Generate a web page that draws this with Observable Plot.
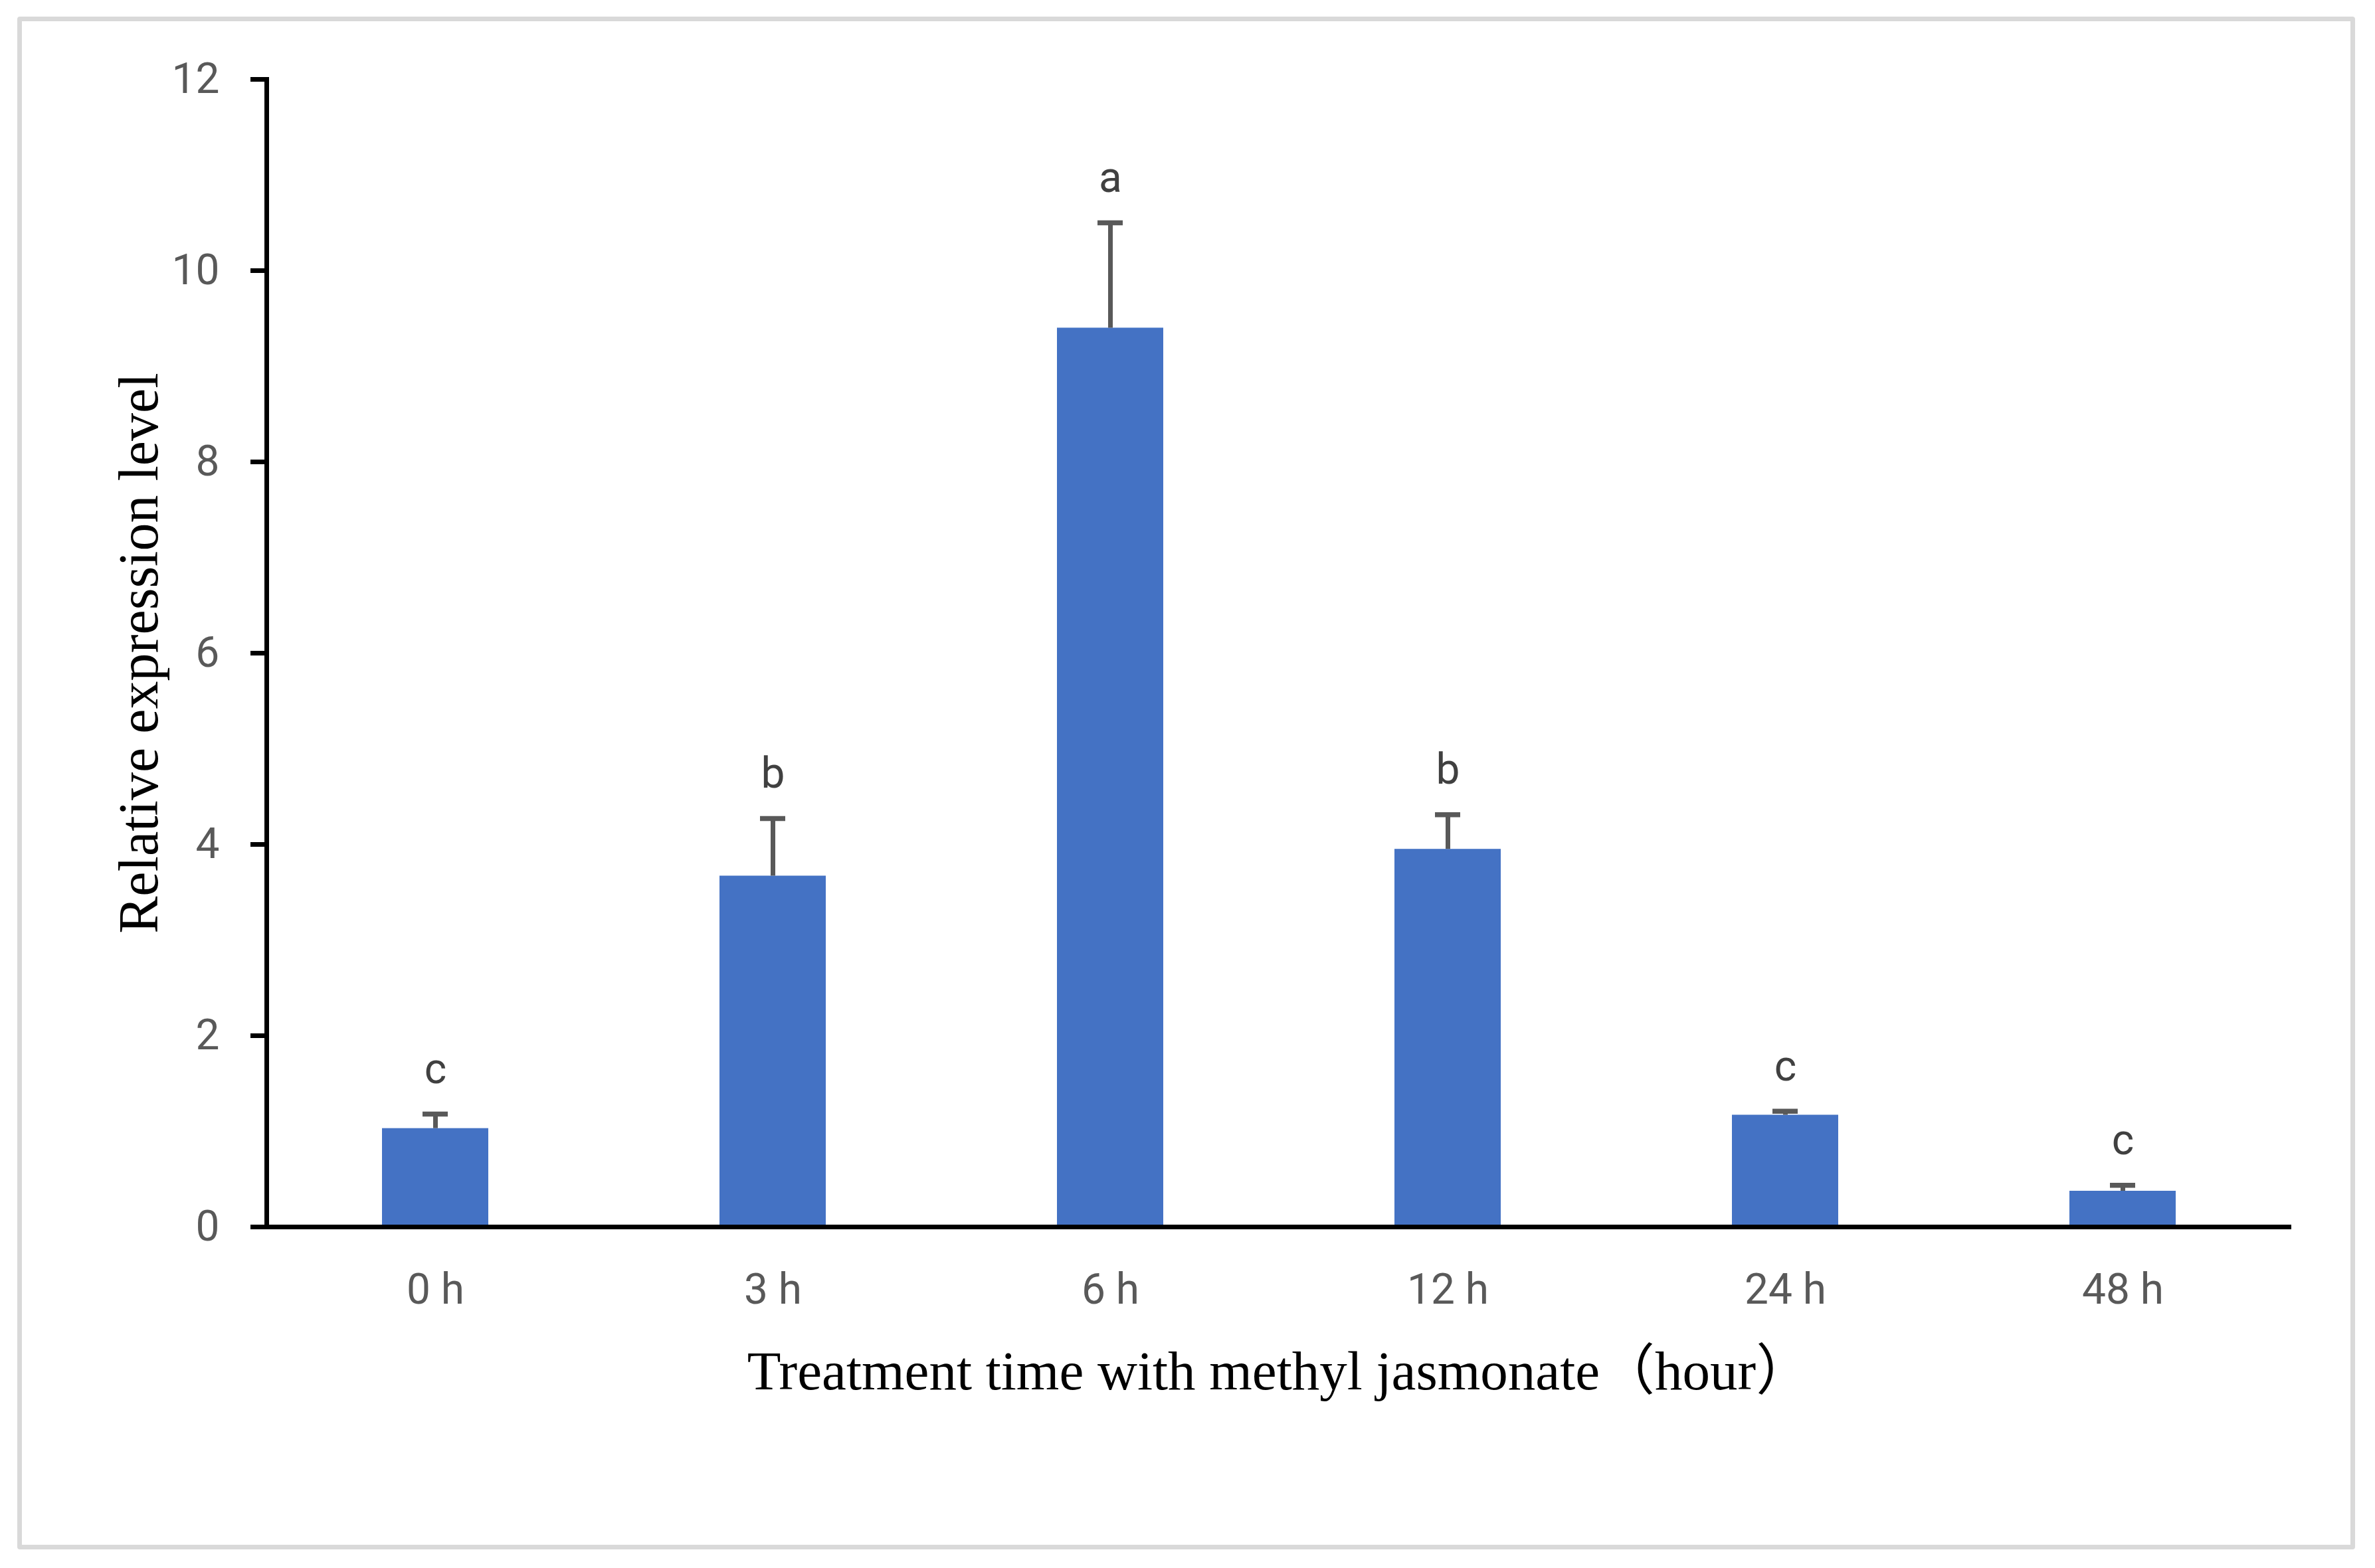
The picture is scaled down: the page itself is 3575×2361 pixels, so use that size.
<!DOCTYPE html>
<html>
<head>
<meta charset="utf-8">
<script src="https://cdn.jsdelivr.net/npm/d3@7"></script>
<script src="https://cdn.jsdelivr.net/npm/@observablehq/plot@0.6"></script>
<style>
  html, body { margin: 0; padding: 0; background: #ffffff; }
  #wrap { position: relative; width: 3575px; height: 2361px; background: #ffffff; }
  #border { position: absolute; left: 26px; top: 25px; width: 3519px; height: 2308px;
            box-sizing: border-box; border: 7px solid #d9d9d9; border-radius: 4px; pointer-events: none; }
</style>
</head>
<body>
<div id="wrap"><div id="border"></div></div>
<script>
// ---- data ----
const categories = ["0 h", "3 h", "6 h", "12 h", "24 h", "48 h"];
const means      = [1.03, 3.67, 9.40, 3.95, 1.17, 0.375];
const errors     = [0.15, 0.60, 1.10, 0.36, 0.04, 0.06];
const letters    = ["c", "b", "a", "b", "c", "c"];
const yTicks     = [0, 2, 4, 6, 8, 10, 12];
const xTitle = "Treatment time with methyl jasmonate（hour）";
const yTitle = "Relative expression level";

const data = categories.map((c, i) => ({cat: c, mean: means[i], err: errors[i], letter: letters[i]}));

const chart = Plot.plot({
  width: 3575,
  height: 2361,
  marginLeft: 401,
  marginRight: 126,
  marginTop: 119,
  marginBottom: 514,
  style: {background: "transparent", fontFamily: "Roboto"},
  x: {domain: categories, paddingInner: 0.685, paddingOuter: 0.3425, label: null},
  y: {domain: [0, 12], label: null},
  marks: [
    Plot.barY(data, {x: "cat", y: "mean", fill: "#4472C4"}),
    Plot.ruleX(data, {x: "cat", y1: "mean", y2: d => d.mean + d.err, stroke: "#595959", strokeWidth: 7}),
    Plot.tickY(data, {x: "cat", y: d => d.mean + d.err, stroke: "#595959", strokeWidth: 7.5, insetLeft: 61, insetRight: 61}),
    Plot.text(data, {x: "cat", y: d => d.mean + d.err, text: "letter", dy: -67, fontSize: 64, fill: "#404040", fontFamily: "Roboto"}),
    Plot.frame({anchor: "left", stroke: "black", strokeWidth: 7}),
    Plot.ruleY([0], {stroke: "black", strokeWidth: 7}),
    Plot.axisY(yTicks, {anchor: "left", tickSize: 24, tickPadding: 47, stroke: "black", strokeWidth: 7,
                        fill: "#595959", fontSize: 64, fontFamily: "Roboto", label: null, tickFormat: d => String(d)}),
    Plot.axisX({anchor: "bottom", tickSize: 0, tickPadding: 70, fill: "#595959", fontSize: 64, fontFamily: "Roboto", label: null}),
    Plot.text([xTitle], {frameAnchor: "bottom", textAnchor: "middle", lineAnchor: "middle", dy: 218, fontSize: 83, fill: "black",
                         fontFamily: "'Liberation Serif', 'Times New Roman', 'Noto Sans CJK SC', serif"}),
    Plot.text([yTitle], {frameAnchor: "left", textAnchor: "middle", lineAnchor: "middle", rotate: -90, dx: -191, fontSize: 84, fill: "black",
                         fontFamily: "'Liberation Serif', 'Times New Roman', serif"})
  ]
});
document.getElementById("wrap").appendChild(chart);
chart.style.position = "absolute";
chart.style.left = "0px";
chart.style.top = "0px";
</script>
</body>
</html>
